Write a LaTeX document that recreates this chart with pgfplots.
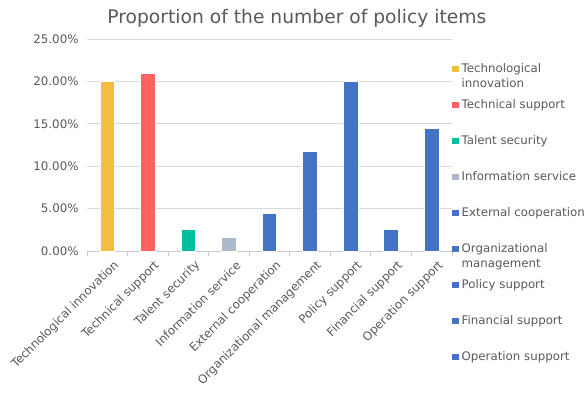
\documentclass[border=0pt]{standalone}
\usepackage{pgfplots}
\pgfplotsset{compat=1.18}
\usepackage{fontspec}
\setmainfont{DejaVu Sans}
\definecolor{cyel}{HTML}{F2BE40}
\definecolor{cred}{HTML}{FF6361}
\definecolor{cteal}{HTML}{00BFA0}
\definecolor{cgrey}{HTML}{ADB9CA}
\definecolor{cblue}{HTML}{4472C4}
\definecolor{txt}{HTML}{595959}
\definecolor{grd}{HTML}{D9D9D9}
\begin{document}
\begin{tikzpicture}
\path[use as bounding box] (0,0) rectangle (587bp,403bp);
\begin{axis}[
  at={(87bp,152bp)}, anchor=south west,
  scale only axis, width=365bp, height=212bp,
  /pgf/number format/assume math mode=true,
  font=\fontsize{11.8bp}{14bp}\selectfont,
  ybar, bar shift=0pt, bar width=14.7bp,
  xmin=-0.5, xmax=8.5, ymin=0, ymax=25,
  ytick={0,5,10,15,20,25},
  yticklabel={\pgfmathprintnumber[fixed,fixed zerofill,precision=2]{\tick}\%},
  yticklabel style={xshift=-5bp},
  ymajorgrids, grid style={grd, line width=0.8bp},
  axis y line*=left, y axis line style={draw=none},
  ytick style={draw=none},
  axis x line*=bottom, x axis line style={draw=grd!80!gray, line width=0.8bp},
  xtick={0,...,8},
  xticklabels={Technological innovation,Technical support,Talent security,Information service,External cooperation,Organizational management,Policy support,Financial support,Operation support},
  minor xtick={-0.5,0.5,...,8.5},
  major tick length=0pt, minor tick length=5bp, tick align=outside,
  minor tick style={grd!80!gray, line width=0.8bp},
  xticklabel style={xshift=12bp, yshift=-10bp, rotate=45, anchor=east},
  ticklabel style={text=txt},
  title={Proportion of the number of policy items},
  title style={at={(0.575,1)}, anchor=base, yshift=10bp, font=\fontsize{18.7bp}{22bp}\selectfont, text=txt},
  legend image code/.code={\fill[#1,draw=none] (0bp,-3bp) rectangle (6.5bp,3.5bp);},
  legend cell align=left,
  legend style={at={(1,0.901)}, anchor=north west, draw=none, fill=none,
    inner sep=0pt, row sep=18bp, font=\fontsize{11.8bp}{14bp}\selectfont, text=txt,
    nodes={text height=9bp, text depth=3bp, inner sep=3bp}},
]
\addplot[fill=cyel, draw=white, line width=0.8bp] coordinates {(0,20.0)};
\addplot[fill=cred, draw=white, line width=0.8bp] coordinates {(1,21.0)};
\addplot[fill=cteal, draw=white, line width=0.8bp] coordinates {(2,2.55)};
\addplot[fill=cgrey, draw=white, line width=0.8bp] coordinates {(3,1.65)};
\addplot[fill=cblue, draw=white, line width=0.8bp] coordinates {(4,4.45)};
\addplot[fill=cblue, draw=white, line width=0.8bp] coordinates {(5,11.7)};
\addplot[fill=cblue, draw=white, line width=0.8bp] coordinates {(6,20.0)};
\addplot[fill=cblue, draw=white, line width=0.8bp] coordinates {(7,2.55)};
\addplot[fill=cblue, draw=white, line width=0.8bp] coordinates {(8,14.5)};
\legend{{\smash{\begin{tabular}[t]{@{}l@{}}Technological\\[1bp]innovation\end{tabular}}},
Technical support,Talent security,Information service,External cooperation,
{\smash{\begin{tabular}[t]{@{}l@{}}Organizational\\[1bp]management\end{tabular}}},
Policy support,Financial support,Operation support}
\end{axis}
\end{tikzpicture}
\end{document}
